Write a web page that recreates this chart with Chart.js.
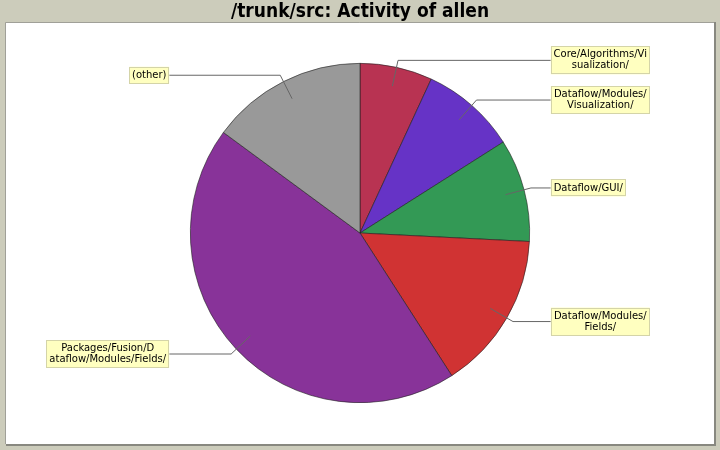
<!DOCTYPE html>
<html>
<head>
<meta charset="utf-8">
<script src="https://cdn.jsdelivr.net/npm/chart.js@4.4.1/dist/chart.umd.min.js"></script>
<style>
html,body{margin:0;padding:0;background:#ccccbb;}
canvas{display:block;}
</style>
</head>
<body>
<canvas id="c" width="720" height="450"></canvas>
<script>
const titleText = "/trunk/src: Activity of allen";
const categories = [
  "Core/Algorithms/Visualization/",
  "Dataflow/Modules/Visualization/",
  "Dataflow/GUI/",
  "Dataflow/Modules/Fields/",
  "Packages/Fusion/Dataflow/Modules/Fields/",
  "(other)"
];
const values = [69, 91, 98, 151, 442, 149];
const labelLines = [
  ["Core/Algorithms/Vi", "sualization/"],
  ["Dataflow/Modules/", "Visualization/"],
  ["Dataflow/GUI/"],
  ["Dataflow/Modules/", "Fields/"],
  ["Packages/Fusion/D", "ataflow/Modules/Fields/"],
  ["(other)"]
];
const sliceColors = ["#b83352", "#6633c6", "#339955", "#d03333", "#883399", "#999999"];

const panelPlugin = {
  id: 'panel',
  beforeDraw(chart) {
    const ctx = chart.ctx;
    ctx.save();
    ctx.fillStyle = '#ccccbb';
    ctx.fillRect(0, 0, chart.width, chart.height);
    ctx.fillStyle = '#ffffff';
    ctx.fillRect(6, 23, 708, 421);
    ctx.strokeStyle = '#a0a098';
    ctx.lineWidth = 1;
    ctx.beginPath();
    ctx.moveTo(5.5, 444); ctx.lineTo(5.5, 22.5); ctx.lineTo(714, 22.5);
    ctx.stroke();
    ctx.strokeStyle = '#888880';
    ctx.lineWidth = 2;
    ctx.beginPath();
    ctx.moveTo(6, 445); ctx.lineTo(715, 445); ctx.lineTo(715, 22);
    ctx.stroke();
    ctx.restore();
  }
};

const labelPlugin = {
  id: 'pieLabels',
  afterDatasetsDraw(chart) {
    const ctx = chart.ctx;
    const meta = chart.getDatasetMeta(0);
    ctx.save();
    ctx.font = '10px "DejaVu Sans", sans-serif';
    meta.data.forEach((arc, i) => {
      const p = arc.getProps(['x', 'y', 'startAngle', 'endAngle', 'outerRadius'], true);
      const r = p.outerRadius;
      const mid = (p.startAngle + p.endAngle) / 2;
      const c = Math.cos(mid), s = Math.sin(mid);
      const lx = p.x + c * r * 0.887, ly = p.y + s * r * 0.887;
      const ex = p.x + c * r * 1.042, ey = p.y + s * r * 1.042;
      const right = c >= 0;
      const dir = right ? 1 : -1;
      const ax = p.x + dir * r * 1.045;
      const tx = ax + dir * 13.5;
      ctx.strokeStyle = '#666666';
      ctx.lineWidth = 1;
      ctx.beginPath();
      ctx.moveTo(lx, ly);
      ctx.lineTo(ex, ey);
      ctx.lineTo(tx, ey);
      ctx.stroke();
      const lines = labelLines[i];
      let mw = 0;
      lines.forEach(t => { mw = Math.max(mw, ctx.measureText(t).width); });
      const w = Math.round(mw + 6);
      const h = lines.length * 11 + 6;
      const bx = right ? tx : tx - w;
      const by = ey - h / 2;
      ctx.fillStyle = '#ffffc0';
      ctx.fillRect(bx, by, w, h);
      ctx.strokeStyle = '#d4d4a8';
      ctx.lineWidth = 1;
      ctx.strokeRect(Math.round(bx) + 0.5, Math.round(by) + 0.5, w - 1, h - 1);
      ctx.fillStyle = '#000000';
      ctx.textAlign = 'center';
      ctx.textBaseline = 'middle';
      lines.forEach((t, k) => {
        ctx.fillText(t, bx + w / 2, by + 3 + 5.5 + k * 11);
      });
    });
    ctx.restore();
  }
};

new Chart(document.getElementById('c'), {
  type: 'pie',
  data: {
    labels: categories,
    datasets: [{
      data: values,
      backgroundColor: sliceColors,
      borderColor: 'rgba(30,30,30,0.85)',
      borderWidth: 0.7,
      hoverOffset: 0
    }]
  },
  options: {
    responsive: false,
    animation: false,
    devicePixelRatio: 1,
    layout: { padding: { top: 0, bottom: 47, left: 190, right: 190 } },
    plugins: {
      legend: { display: false },
      tooltip: { enabled: false },
      title: {
        display: true,
        text: titleText,
        color: '#000000',
        font: { family: '"DejaVu Sans Condensed", "DejaVu Sans", sans-serif', size: 19, weight: 'bold' },
        padding: { top: 1, bottom: 39.2 }
      }
    }
  },
  plugins: [panelPlugin, labelPlugin]
});
</script>
</body>
</html>
